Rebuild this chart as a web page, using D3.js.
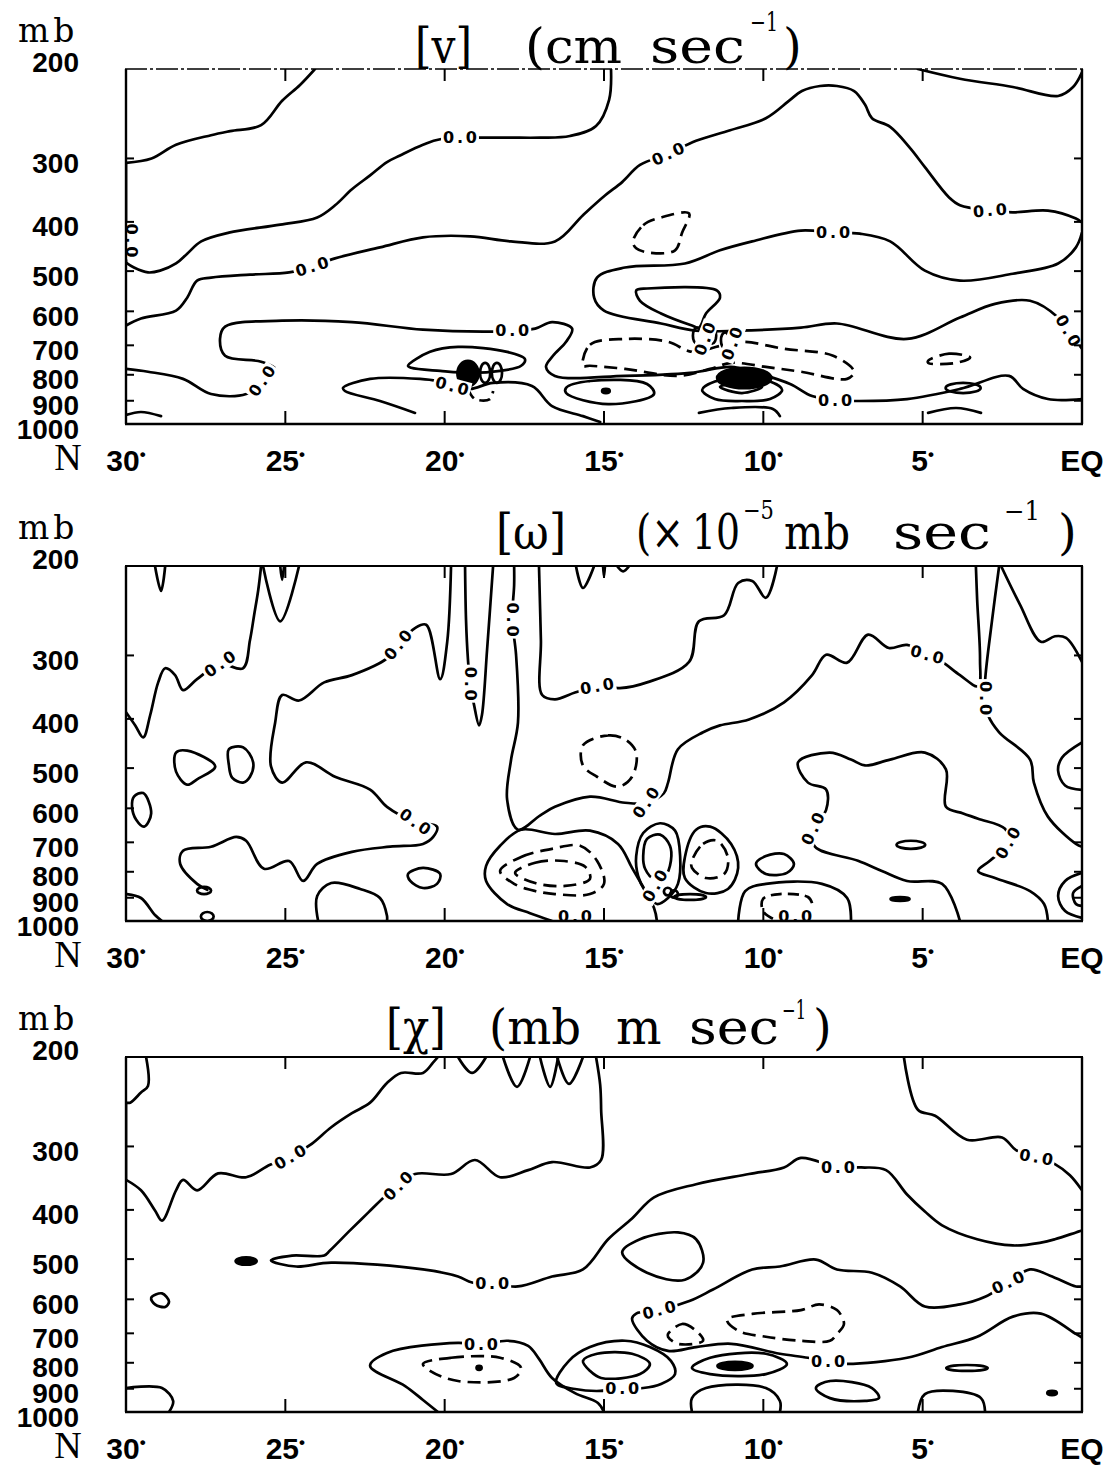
<!DOCTYPE html>
<html>
<head>
<meta charset="utf-8">
<script src="https://cdn.jsdelivr.net/npm/d3@7"></script>
<style>
  body { margin: 0; background: #fff; }
  svg { display: block; }
</style>
</head>
<body>
<svg id="fig" width="1111" height="1469"></svg>
<script>
// ---------------------------------------------------------------
// Axis values
// ---------------------------------------------------------------
const pressureTicks = [200, 300, 400, 500, 600, 700, 800, 900, 1000];
const latTicks = [30, 25, 20, 15, 10, 5, 0];
const latTickLabels = ["30", "25", "20", "15", "10", "5", "EQ"];

// Every contour is a list of [latitude (deg N), pressure (mb)] points.

// ---------------- [v] meridional wind ----------------
const vOpen = [
  [[24.07,200],[24.54,215],[25.1,231],[25.76,258],[26.73,265],[27.33,270],[28.43,282],[29.2,300],[30,306]],
  [[30,306],[30,481]],
  [[14.78,200],[14.84,230],[15.25,259],[16.07,271],[17.01,273],[18.26,273],[20.14,275],[20.68,282],[21.4,296],[21.81,305],[22.34,324],[22.91,345],[23.44,371],[24.0,392],[25.16,405],[26.77,420],[27.64,437],[28.08,462],[28.43,483],[28.93,499],[29.31,503],[29.75,492],[30,481]],
  [[30,640],[29.53,620],[28.43,598],[28.08,564],[27.77,522],[27.33,515],[26.11,508],[24.88,503],[24.16,490],[23.44,472],[22.03,449],[20.68,429],[19.2,427],[17.92,437],[16.54,437],[15.66,388],[14.97,355],[14.43,334],[13.87,309],[12.99,294],[12.11,277],[11.04,264],[9.92,250],[9.16,230],[8.79,221],[8.22,216],[7.69,216],[7.15,221],[6.81,235],[6.59,250],[6.02,260],[5.4,286],[4.93,312],[4.17,358],[3.83,371],[2.89,380],[2.17,383],[1.07,380],[0.19,394],[0,401]],
  [[5.15,200],[3.83,209],[2.17,217],[0.75,226],[0.28,217],[0,203]],
  [[0,420],[0.19,449],[0.75,483],[2.17,506],[3.83,522],[4.93,499],[6.02,437],[6.97,422],[7.81,420],[8.82,416],[10.35,437],[11.36,455],[12.46,483],[14.34,492],[15.22,515],[15.31,564],[15.0,598],[13.21,634],[12.11,655],[10.79,655],[8.82,646],[7.69,634],[5.49,680],[3.83,617],[2.73,580],[1.63,572],[0.75,617],[0.44,655],[0,711]],
  [[30,779],[29.31,789],[28.21,815],[27.33,873],[26.23,873],[25.73,823],[25.32,779],[25.76,754],[26.89,734],[27.05,680],[26.89,643],[25.1,626],[22.91,630],[20.68,652],[18.7,658],[17.88,655],[17.16,649],[16.63,630],[16.0,649],[16.19,689],[16.6,734],[16.82,772],[16.54,804],[14.34,804],[12.3,793],[11.01,772],[10.35,789],[9.16,834],[8.47,881],[7.75,897],[7.03,901],[5.49,893],[3.83,853],[2.29,804],[1.85,853],[1.07,893],[0,893]],
  [[20.93,951],[22.03,901],[23.13,861],[23.19,849],[22.34,815],[20.77,815],[20.24,823],[19.77,842],[19.2,853],[18.48,830],[17.26,842],[16.63,922],[15.66,965],[15.12,991]],
  [[30,960],[29.53,947],[28.9,965]],
  [[12.02,951],[11.01,930],[9.7,934],[9.48,965]],
  [[4.83,951],[3.95,930],[3.17,951]]
];
const vRings = [
  [[13.99,546],[13.65,541],[11.45,546],[11.36,564],[11.8,606],[12.02,646],[12.24,640],[13.21,606],[13.87,572]],
  [[21.15,768],[20.46,721],[19.58,705],[18.04,721],[17.48,745],[17.6,768],[18.26,786],[19.2,793],[20.14,786],[21.05,775]],
  [[16.19,849],[15.44,823],[13.65,834],[13.43,873],[14.87,914],[16.19,869]],
  [[11.92,857],[11.52,825],[10.67,815],[9.79,825],[9.41,857],[9.79,893],[10.67,901],[11.52,893]],
  [[11.36,845],[10.67,830],[10.04,845],[10.67,869]]
];
const vDashed = [
  [[14.09,437],[13.77,406],[13.21,392],[12.33,385],[12.55,420],[12.77,455],[13.56,460],[13.99,451]],
  [[15.66,768],[15.44,698],[14.34,680],[12.99,689],[12.24,721],[11.36,702],[10.67,689],[9.35,711],[7.81,734],[7.15,789],[7.37,815],[8.82,789],[9.92,772],[11.01,758],[11.67,779],[12.68,804],[14.34,779],[15.44,768]],
  [[4.83,751],[4.17,727],[3.51,740],[3.95,758],[4.83,758]]
];
const vDashedOpen = [
  [[19.27,853],[19.05,893],[18.58,893],[18.48,861]]
];
// small centres: [lat, top mb, bottom mb, half-width deg]
const vDots = [[19.27,751,842,0.33],[10.6,775,850,0.85],[14.94,853,869,0.12]];
const vLoops = [[18.73,758,830,0.16],[18.36,758,830,0.16],[12.08,646,695,0.13],[11.61,646,695,0.13],[11.2,660,710,0.13],[3.73,830,869,0.55]];
// contour labels: [lat, mb, angle]
const vLabels = [[29.84,435,90],[19.52,273,0],[24.16,490,-17],[12.99,294,-25],[2.89,380,-5],[7.81,420,0],[0.44,655,60],[25.73,823,-55],[17.88,655,0],[19.77,842,15],[7.75,897,0],[11.83,680,-70],[10.98,695,-70]];

// ---------------- [omega] vertical motion ----------------
const wOpen = [
  [[29.09,200],[28.9,224],[28.77,200]],
  [[25.16,200],[25.1,213],[25.04,200]],
  [[25.7,200],[25.16,257],[24.57,200]],
  [[30,388],[29.71,412],[29.46,435],[29.24,393],[28.99,339],[28.77,318],[28.46,328],[28.21,351],[27.77,334],[27.05,312],[26.33,318],[26.11,280],[25.98,250],[25.85,223],[25.76,200]],
  [[19.8,200],[19.92,282],[20.14,334],[20.58,261],[20.93,265],[21.46,286],[21.81,304],[22.91,328],[23.78,339],[24.57,368],[25.1,359],[25.32,407],[25.45,496],[25.1,534],[24.35,487],[23.44,520],[22.34,551],[21.81,596],[20.93,638],[20.24,652],[20.36,683],[20.68,705],[21.71,714],[22.91,731],[24.0,772],[24.44,834],[24.88,762],[25.67,789],[26.23,695],[26.54,683],[27.33,714],[28.21,727],[28.3,772],[27.77,845],[27.45,868]],
  [[19.36,200],[19.33,255],[19.27,305],[19.2,341],[19.08,375],[18.92,412],[18.83,393],[18.67,293],[18.48,200]],
  [[17.82,200],[17.82,218],[17.88,255],[17.76,299],[17.7,407],[17.92,483],[18.04,577],[17.7,661],[17.01,620],[16.54,596],[15.44,569],[14.34,585],[13.68,585],[13.12,560],[12.99,534],[12.68,459],[11.89,425],[11.36,412],[10.45,401],[9.35,371],[8.47,328],[8.03,299],[7.37,310],[6.71,273],[6.06,290],[5.49,286],[4.86,299],[4.39,309],[3.83,328],[3.26,345],[3.2,306],[3.29,233],[3.33,200]],
  [[17.04,200],[16.98,280],[16.94,359],[16.54,366],[15.91,355],[15.22,345],[14.5,348],[13.65,339],[12.33,309],[12.02,257],[11.23,250],[10.79,216],[10.35,214],[9.92,231],[9.57,200]],
  [[15.88,200],[15.66,221],[15.31,200]],
  [[15.03,200],[15.0,210],[14.97,200]],
  [[14.59,200],[14.4,205],[14.21,200]],
  [[2.6,200],[2.82,255],[3.04,336],[3.04,364],[2.95,393],[2.6,425],[1.63,481],[1.51,534],[1.07,623],[0.19,705],[0,714]],
  [[2.54,200],[1.95,238],[1.29,282],[0.85,275],[0.5,277],[0,309]],
  [[3.83,1000],[4.39,845],[5.49,834],[6.28,797],[7.03,761],[8.38,714],[8.44,658],[8.03,604],[8.03,551],[8.6,534],[8.91,487],[7.91,466],[7.25,481],[6.81,494],[6.02,481],[4.93,466],[4.27,503],[4.27,596],[3.73,614],[3.26,629],[2.42,658],[2.32,702],[2.89,761],[3.26,797],[2.73,823],[1.63,873],[1.19,926],[1.07,1000]],
  [[29.97,885],[29.53,901],[29.09,973],[28.87,1000]],
  [[23.97,1000],[24.0,893],[23.56,842],[22.65,865],[22.03,901],[21.81,977],[21.81,1000]],
  [[10.79,1000],[10.57,873],[9.92,845],[8.16,845],[7.37,901],[7.25,1000]],
  [[13.34,1000],[13.43,943],[14.12,786],[14.56,705],[15.44,664],[16.54,674],[17.6,661],[18.26,711],[18.7,779],[18.7,834],[18.04,926],[17.32,965],[16.63,1000]],
  [[0,445],[0.63,477],[0.75,506],[0.53,541],[0,552]],
  [[0,804],[0.53,834],[0.75,893],[0.53,956],[0,986]],
  [[0,853],[0.28,881],[0.19,926],[0,934]]
];
const wRings = [
  [[28.43,466],[28.08,462],[27.2,496],[27.77,526],[28.08,539],[28.43,508]],
  [[26.77,459],[26.33,455],[26.01,487],[26.11,520],[26.33,534],[26.67,522],[26.77,494]],
  [[29.75,569],[29.46,560],[29.21,614],[29.43,652],[29.68,632],[29.81,596]],
  [[21.15,808],[20.68,786],[20.14,808],[20.24,845],[20.68,861],[21.08,834]],
  [[10.23,772],[9.92,745],[9.35,738],[9.04,772],[9.26,804],[9.92,808]],
  [[13.99,745],[13.77,671],[13.24,642],[12.77,664],[12.61,748],[12.68,845],[12.99,901],[13.34,926],[13.71,873],[13.93,815]],
  [[13.77,745],[13.65,689],[13.24,676],[12.93,711],[12.9,761],[13.08,815],[13.43,826],[13.71,789]],
  [[12.46,748],[12.11,661],[11.67,652],[11.01,705],[10.79,786],[11.11,865],[11.8,881],[12.46,823]]
];
const wDashed = [
  [[15.66,451],[14.87,431],[14.34,439],[13.99,466],[14.12,520],[14.56,544],[15.22,520],[15.66,494]],
  [[12.24,761],[11.89,705],[11.45,695],[11.11,751],[11.23,808],[11.8,823],[12.24,786]],
  [[18.26,797],[17.6,748],[16.63,721],[15.75,711],[15.22,761],[15.0,845],[15.44,885],[16.54,885],[17.16,873],[17.82,845]],
  [[17.79,804],[17.16,768],[16.38,761],[15.59,782],[15.44,826],[16.22,853],[17.16,842]]
];
const wDashedOpen = [
  [[9.7,990],[10.01,956],[10.01,905],[9.48,885],[8.6,897],[8.47,922]]
];
const wDots = [[5.71,897,913,0.3],[13.4,830,857,0.15]];
const wLoops = [[5.37,695,721,0.45],[12.3,885,909,0.5],[13.0,860,890,0.12],[12.8,870,900,0.12],[27.55,857,885,0.22],[27.45,960,1000,0.2]];
const wLabels = [[27.05,312,-35],[21.46,286,-50],[20.93,638,35],[19.2,341,90],[17.88,255,90],[15.22,345,-10],[4.86,299,15],[3.04,364,90],[13.68,585,-55],[8.44,658,-65],[2.32,702,-60],[15.91,982,0],[9.0,982,0],[13.4,853,-60]];

// ---------------- [chi] divergent flux ----------------
const cOpen = [
  [[29.37,200],[29.31,228],[29.53,235],[29.87,246],[30,246]],
  [[30,246],[30,349]],
  [[30,349],[29.53,366],[29.09,401],[28.87,420],[28.43,366],[28.21,349],[27.77,366],[27.11,339],[26.23,345],[25.48,326],[24.85,315],[24.22,298],[23.56,275],[22.91,258],[22.34,246],[21.81,225],[21.37,215],[20.68,215],[20.36,205],[20.21,200]],
  [[19.58,200],[19.14,215],[18.7,200]],
  [[18.17,200],[17.73,229],[17.32,200]],
  [[17.01,200],[16.69,229],[16.44,200]],
  [[16.47,200],[16.1,226],[15.66,200]],
  [[15.25,200],[15.12,227],[15.09,254],[15.09,319],[15.44,330],[16.63,322],[17.38,334],[18.26,345],[19.05,319],[19.8,340],[20.93,340],[21.46,359],[21.81,373],[22.4,405],[22.97,439],[23.6,481],[23.78,492],[24.79,492],[25.45,503],[24.66,517],[23.56,508],[20.68,524],[19.58,541],[19.14,556],[18.51,559],[17.7,566],[16.63,541],[15.66,524],[14.87,457],[14.12,416],[13.43,378],[12.11,356],[10.45,340],[9.35,330],[8.82,316],[7.66,330],[6.93,330],[6.15,334],[5.49,373],[4.93,403],[4.39,429],[3.29,457],[2.17,470],[1.29,464],[0.85,457],[0.19,443],[0,439]],
  [[5.59,200],[5.15,254],[4.61,261],[3.61,291],[2.51,288],[2.07,305],[1.44,315],[0.85,325],[0.38,342],[0,366]],
  [[20.21,1000],[20.68,947],[21.24,889],[22.34,811],[21.81,765],[19.58,731],[18.86,738],[18.04,724],[17.38,741],[17.04,786],[16.63,857],[15.91,918],[15.19,960],[15.0,1000]],
  [[0,566],[0.19,566],[1.0,539],[1.63,524],[2.32,556],[3.04,593],[3.83,614],[4.93,620],[5.71,566],[6.59,532],[7.69,524],[8.35,501],[9.48,517],[10.35,524],[11.58,574],[12.3,604],[13.27,630],[13.99,640],[14.12,655],[13.65,724],[12.99,758],[12.11,745],[11.01,734],[9.48,768],[8.6,782],[7.97,797],[7.37,804],[5.49,782],[4.39,745],[3.29,711],[2.17,649],[1.29,640],[0.19,702],[0,714]],
  [[30,897],[28.87,897],[28.52,951],[28.65,1000]],
  [[12.24,1000],[12.24,939],[11.8,897],[9.92,897],[9.48,951],[9.48,1000]],
  [[5.15,1000],[4.93,922],[4.05,909],[3.17,939],[3.04,1000]]
];
const cRings = [
  [[29.21,596],[28.87,584],[28.65,606],[28.77,621],[29.09,614]],
  [[16.5,877],[16.1,793],[15.44,745],[14.34,724],[13.56,745],[12.9,793],[12.77,842],[13.21,881],[13.77,897],[14.43,897],[15.12,909],[15.91,901]],
  [[15.66,793],[15.22,768],[14.12,768],[13.56,804],[13.87,842],[15.09,857],[15.44,830]],
  [[14.43,485],[13.87,457],[12.68,443],[12.11,457],[11.89,508],[12.46,549],[13.65,532]],
  [[12.24,819],[11.67,782],[9.92,768],[9.26,804],[9.92,842],[11.67,842]],
  [[8.35,897],[7.91,869],[6.59,897],[6.37,939],[6.81,951],[7.91,939]]
];
const cDashed = [
  [[20.68,804],[19.8,782],[18.26,782],[17.6,819],[17.82,857],[19.58,869],[20.46,830]],
  [[12.99,702],[12.55,671],[12.11,692],[11.89,724],[12.68,734],[12.99,711]],
  [[11.14,658],[10.35,641],[8.82,630],[8.25,614],[7.69,630],[7.47,671],[7.69,702],[7.91,724],[8.82,724],[9.92,711],[10.79,692]]
];
const cDashedOpen = [];
const cDots = [[10.89,797,826,0.55],[0.94,909,926,0.15],[18.92,811,826,0.08],[26.23,496,513,0.33]];
const cLoops = [[3.61,808,830,0.65]];
const cLabels = [[24.85,315,-30],[21.46,359,-45],[18.51,559,0],[7.66,330,0],[1.44,315,10],[2.32,556,-25],[13.27,630,-15],[7.97,797,0],[18.86,738,0],[14.43,897,0]];

// ---------------------------------------------------------------
// Layout
// ---------------------------------------------------------------
const plotLeft = 126, plotRight = 1082, plotH = 355;
const x = d3.scaleLinear().domain([30, 0]).range([plotLeft, plotRight]);
const svg = d3.select("#fig");
const SERIF = "'DejaVu Serif', serif";
const SANS = "'Liberation Sans', Arial, sans-serif";

// title pieces: text, left x, offset above the frame, target width
const panels = [
  {
    top: 69, dashedTop: true,
    data: { open: vOpen, rings: vRings, dashed: vDashed, dashedOpen: vDashedOpen, dots: vDots, loops: vLoops, labels: vLabels },
    title: [
      { t: "[v]", x: 415, dy: -6, w: 57 },
      { t: "(cm", x: 525, dy: -6, w: 97 },
      { t: "sec", x: 650, dy: -6, w: 95 },
      { t: "\u22121", x: 750, dy: -38, w: 28, sup: true },
      { t: ")", x: 783, dy: -6 }
    ]
  },
  {
    top: 566, dashedTop: false,
    data: { open: wOpen, rings: wRings, dashed: wDashed, dashedOpen: wDashedOpen, dots: wDots, loops: wLoops, labels: wLabels },
    title: [
      { t: "[\u03c9]", x: 496, dy: -17, w: 70 },
      { t: "(\u00d7", x: 636, dy: -17, w: 48 },
      { t: "10", x: 692, dy: -17, w: 48 },
      { t: "\u22125", x: 743, dy: -47, w: 31, sup: true },
      { t: "mb", x: 784, dy: -17, w: 66 },
      { t: "sec", x: 893, dy: -17, w: 98 },
      { t: "\u22121", x: 1004, dy: -46, w: 36, sup: true },
      { t: ")", x: 1058, dy: -17 }
    ]
  },
  {
    top: 1057, dashedTop: false,
    data: { open: cOpen, rings: cRings, dashed: cDashed, dashedOpen: cDashedOpen, dots: cDots, loops: cLoops, labels: cLabels },
    title: [
      { t: "[\u03c7]", x: 386, dy: -13, w: 60 },
      { t: "(mb", x: 489, dy: -13, w: 92 },
      { t: "m", x: 616, dy: -13 },
      { t: "sec", x: 689, dy: -13, w: 90 },
      { t: "\u22121", x: 782, dy: -38, w: 24, sup: true },
      { t: ")", x: 813, dy: -13 }
    ]
  }
];

panels.forEach((p, i) => drawPanel(p, i));

function drawPanel(p, i) {
  const top = p.top, bottom = top + plotH;
  const y = d3.scaleLog().domain([200, 1000]).range([top, bottom]);
  const g = svg.append("g");

  const clipId = "plotclip" + i;
  svg.append("clipPath").attr("id", clipId)
    .append("rect")
    .attr("x", x(30)).attr("y", y(200))
    .attr("width", x(0) - x(30)).attr("height", y(1000) - y(200));

  const openLine = d3.line().x(d => x(d[0])).y(d => y(d[1])).curve(d3.curveCatmullRom.alpha(0.5));
  const closedLine = d3.line().x(d => x(d[0])).y(d => y(d[1])).curve(d3.curveCatmullRomClosed.alpha(0.5));

  const cg = g.append("g")
    .attr("clip-path", `url(#${clipId})`)
    .attr("fill", "none").attr("stroke", "#000")
    .attr("stroke-width", 2.7)
    .attr("stroke-linejoin", "round").attr("stroke-linecap", "round");

  cg.selectAll("path.open").data(p.data.open).join("path").attr("class", "open").attr("d", openLine);
  cg.selectAll("path.ring").data(p.data.rings).join("path").attr("class", "ring").attr("d", closedLine);
  cg.selectAll("path.dash").data(p.data.dashed).join("path").attr("class", "dash")
    .attr("d", closedLine).attr("stroke-dasharray", "13,7").attr("stroke-linecap", "butt");
  cg.selectAll("path.dasho").data(p.data.dashedOpen).join("path").attr("class", "dasho")
    .attr("d", openLine).attr("stroke-dasharray", "11,6").attr("stroke-linecap", "butt");

  const ell = sel => sel
    .attr("cx", d => x(d[0]))
    .attr("cy", d => (y(d[1]) + y(d[2])) / 2)
    .attr("rx", d => x(d[0] - d[3]) - x(d[0]))
    .attr("ry", d => (y(d[2]) - y(d[1])) / 2);
  cg.selectAll("ellipse.dot").data(p.data.dots).join("ellipse").attr("class", "dot")
    .call(ell).attr("fill", "#000");
  cg.selectAll("ellipse.loop").data(p.data.loops).join("ellipse").attr("class", "loop")
    .call(ell);

  // contour labels on a white patch so the line breaks around them
  const lab = g.selectAll("g.clab").data(p.data.labels).join("g").attr("class", "clab")
    .attr("transform", d => `translate(${x(d[0])},${y(d[1])}) rotate(${d[2]})`);
  lab.append("rect").attr("x", -19).attr("y", -8).attr("width", 38).attr("height", 16).attr("fill", "#fff");
  lab.append("text")
    .attr("text-anchor", "middle").attr("dominant-baseline", "central")
    .attr("font-family", "'DejaVu Sans', sans-serif").attr("font-weight", "bold")
    .attr("font-size", 16).attr("textLength", 34).attr("lengthAdjust", "spacing")
    .attr("fill", "#000")
    .text("0.0");

  // frame
  const fr = g.append("g").attr("stroke", "#000").attr("fill", "none");
  fr.append("line").attr("x1", x(30)).attr("x2", x(30)).attr("y1", top).attr("y2", bottom).attr("stroke-width", 2.4);
  fr.append("line").attr("x1", x(0)).attr("x2", x(0)).attr("y1", top).attr("y2", bottom).attr("stroke-width", 2.4);
  fr.append("line").attr("x1", x(30) - 1).attr("x2", x(0) + 1).attr("y1", bottom).attr("y2", bottom).attr("stroke-width", 2.6);
  fr.append("line").attr("x1", x(30) - 1).attr("x2", x(0) + 1).attr("y1", top).attr("y2", top)
    .attr("stroke-width", p.dashedTop ? 1.4 : 2.2)
    .attr("stroke-dasharray", p.dashedTop ? "22,3,3,3" : null);

  // ticks, inward on all four sides
  const innerP = pressureTicks.slice(1, -1);
  fr.selectAll("line.ly").data(innerP).join("line").attr("class", "ly")
    .attr("x1", x(30)).attr("x2", x(30) + 8).attr("y1", d => y(d)).attr("y2", d => y(d)).attr("stroke-width", 2);
  fr.selectAll("line.ry").data(innerP).join("line").attr("class", "ry")
    .attr("x1", x(0)).attr("x2", x(0) - 8).attr("y1", d => y(d)).attr("y2", d => y(d)).attr("stroke-width", 2);
  const innerLat = latTicks.slice(1, -1);
  fr.selectAll("line.bx").data(innerLat).join("line").attr("class", "bx")
    .attr("x1", d => x(d)).attr("x2", d => x(d)).attr("y1", bottom).attr("y2", bottom - 13).attr("stroke-width", 2);
  fr.selectAll("line.tx").data(innerLat).join("line").attr("class", "tx")
    .attr("x1", d => x(d)).attr("x2", d => x(d)).attr("y1", top).attr("y2", top + 12).attr("stroke-width", 2);

  // pressure labels
  g.selectAll("text.pl").data(pressureTicks).join("text").attr("class", "pl")
    .attr("x", 79)
    .attr("y", d => y(d) + (d === 200 ? -7 : 5))
    .attr("text-anchor", "end").attr("dominant-baseline", "central")
    .attr("font-family", SANS).attr("font-weight", "bold").attr("font-size", 28)
    .text(d => d);

  g.append("text").attr("x", 18).attr("y", top - 27)
    .attr("font-family", SERIF).attr("font-size", 33).attr("letter-spacing", 4)
    .text("mb");

  // latitude labels
  const lt = g.selectAll("text.ll").data(latTicks).join("text").attr("class", "ll")
    .attr("x", d => x(d)).attr("y", bottom + 47)
    .attr("text-anchor", "middle")
    .attr("font-family", SANS).attr("font-weight", "bold").attr("font-size", 30);
  lt.each(function (d, k) {
    const t = d3.select(this);
    t.append("tspan").text(latTickLabels[k]);
    if (d !== 0) t.append("tspan").attr("font-size", 17).attr("dy", -11).text("\u2022");
  });
  g.append("text").attr("x", 68).attr("y", bottom + 46)
    .attr("text-anchor", "middle")
    .attr("font-family", "'Liberation Serif', serif").attr("font-size", 38)
    .text("N");

  // title
  g.selectAll("text.tt").data(p.title).join("text").attr("class", "tt")
    .attr("x", d => d.x).attr("y", d => top + d.dy)
    .attr("font-family", SERIF)
    .attr("font-size", d => d.sup ? 26 : 48)
    .attr("textLength", d => d.w || null)
    .attr("lengthAdjust", "spacingAndGlyphs")
    .text(d => d.t);
}
</script>
</body>
</html>
